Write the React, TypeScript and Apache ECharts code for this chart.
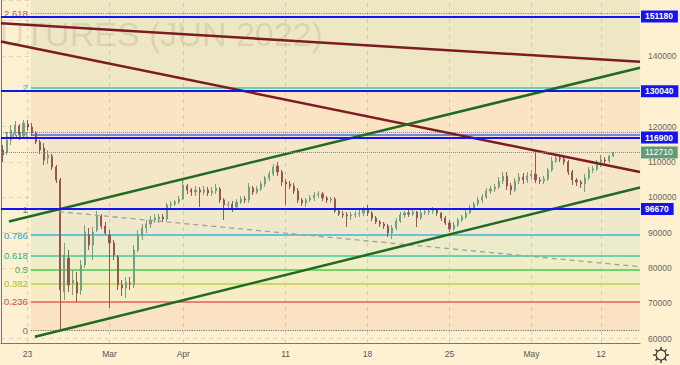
import React, { useEffect, useRef } from 'react';
import * as echarts from 'echarts';

// ---------- axes ----------
const Y_MIN = 58780;
const Y_MAX = 155840;
const X_SLOTS = 156; // category slots (bars + right margin)
const X_TICK_INDEX = [6, 26, 44, 69, 89, 109, 129, 146];
const X_TICK_LABELS = ['23', 'Mar', 'Apr', '11', '18', '25', 'May', '12'];
const HIDDEN_Y_LABELS = [130000, 150000];

// ---------- candles ----------
const OPEN = [
  113390, 112830, 116220, 118490, 120190, 117360, 120750, 119900, 118210, 115660,
  113960, 111130, 111700, 108580, 104910, 73210, 82830, 75760, 76040, 73780,
  80850, 89340, 86510, 90760, 94720, 91890, 89340, 87080, 83120, 75190,
  74350, 75760, 75190, 85100, 89060, 91320, 92460, 93590, 93870, 94440,
  93870, 97830, 98110, 98680, 99530, 103210, 102080, 101510, 102080, 101510,
  102080, 101230, 101790, 102360, 99250, 97830, 98110, 97270, 98680, 99530,
  99250, 102640, 101510, 102360, 103770, 105470, 106600, 108870, 107170, 104340,
  103770, 103210, 101790, 99250, 98400, 99250, 99810, 100660, 100940, 99810,
  99250, 99530, 96130, 95280, 95000, 94720, 95000, 95280, 95570, 96420,
  95570, 94150, 93020, 92460, 91890, 89910, 91320, 93300, 95000, 95570,
  95280, 95850, 94150, 95570, 95850, 96130, 96420, 95570, 94150, 92740,
  91040, 92170, 93590, 94440, 95570, 96980, 98110, 99250, 100100, 101790,
  102360, 102930, 104620, 106040, 103210, 102080, 104620, 105750, 104910, 106040,
  106600, 104910, 104620, 105190, 107740, 110280, 111130, 110850, 110000, 107170,
  104910, 104340, 103770, 105470, 107740, 108020, 110000, 110570, 110280, 111700,
];
const CLOSE = [
  111980, 116220, 119050, 120470, 117640, 121040, 119900, 118210, 115660, 113390,
  110570, 111980, 108580, 104910, 73780, 83680, 75190, 76610, 72930, 80850,
  90190, 86510, 90190, 94720, 91890, 89910, 87080, 83680, 75190, 74350,
  76040, 75480, 85100, 89340, 91320, 92460, 93590, 94150, 94440, 93870,
  97830, 98110, 98680, 99530, 103490, 102080, 101510, 102080, 101510, 102080,
  101230, 101790, 102640, 99250, 97830, 98110, 96980, 98680, 99530, 99250,
  102930, 101510, 102360, 103770, 105470, 106600, 108580, 107170, 104340, 103770,
  103210, 101790, 99250, 98400, 99250, 99810, 100660, 100940, 99810, 99250,
  99530, 96130, 95280, 95000, 94720, 95000, 95280, 95570, 96420, 95570,
  94150, 93020, 92460, 91890, 89910, 91320, 93300, 95000, 95570, 95280,
  95850, 94150, 95570, 95850, 96130, 96420, 95570, 94150, 92740, 91040,
  92170, 93590, 94440, 95570, 96980, 98110, 99250, 100100, 101790, 102360,
  102930, 104620, 106040, 103210, 102080, 104620, 105750, 104910, 106040, 106600,
  104910, 104620, 105190, 107740, 110280, 111130, 110850, 110000, 107170, 104910,
  104340, 103770, 105470, 107740, 108020, 110000, 110570, 110280, 111700, 112710,
];
const LOW = [
  110000, 111980, 114810, 117360, 116220, 116790, 118770, 117360, 115090, 112260,
  109150, 109430, 107740, 104060, 62740, 70950, 73210, 72360, 70380, 72360,
  80000, 85100, 82270, 90190, 91040, 89340, 68690, 82270, 73780, 72080,
  71520, 73780, 74350, 84530, 87930, 89910, 91320, 92740, 92740, 93020,
  93300, 96980, 97550, 98110, 99250, 100940, 100380, 100380, 97270, 100660,
  100380, 100380, 100940, 98400, 93590, 96980, 95850, 96420, 98110, 98400,
  98400, 100660, 100940, 101790, 102930, 104620, 106040, 106040, 103210, 97830,
  102360, 100940, 98400, 97550, 97270, 98680, 98960, 99810, 98960, 98400,
  98400, 95570, 94720, 94150, 91610, 93590, 94150, 94440, 94720, 94720,
  93300, 92460, 91610, 91040, 88780, 88210, 90760, 92740, 94150, 94440,
  94720, 91610, 93590, 95000, 95000, 95280, 94720, 93300, 92170, 90190,
  90470, 91610, 93020, 93870, 95280, 96420, 97550, 98400, 99530, 100940,
  101510, 102360, 103770, 102080, 100660, 101510, 103770, 103770, 104060, 105190,
  104060, 103770, 103770, 104620, 107170, 109720, 110000, 109150, 106320, 103490,
  103210, 102640, 101510, 104910, 106890, 107450, 108580, 109430, 109720, 111410,
];
const HIGH = [
  114810, 118210, 120470, 121600, 120750, 121880, 121880, 121040, 118770, 116220,
  115380, 113390, 112260, 109150, 105470, 87080, 85100, 79440, 78870, 82270,
  92170, 91320, 91610, 96130, 95280, 93020, 90760, 87930, 83680, 76610,
  77460, 77460, 86510, 90760, 92460, 93590, 94720, 95280, 95280, 95280,
  98400, 98960, 99250, 100380, 104910, 103770, 102640, 103210, 102930, 103210,
  102930, 102930, 103770, 102930, 99810, 98960, 98960, 99530, 100380, 100380,
  104060, 103210, 103210, 104620, 106040, 107450, 109430, 110000, 107740, 105190,
  104620, 104060, 102640, 99810, 99810, 100660, 101510, 101790, 101510, 100380,
  100100, 100100, 96700, 96130, 95850, 95850, 96130, 96420, 97270, 97830,
  96130, 94720, 93590, 93020, 92460, 92170, 94150, 95850, 96130, 96420,
  96420, 96130, 96420, 96700, 96700, 97270, 96980, 95850, 94720, 93590,
  93020, 94150, 95000, 96420, 97830, 98680, 100100, 100940, 102640, 103210,
  103770, 105750, 107170, 107170, 104060, 105470, 106890, 106890, 107170, 107740,
  113110, 105750, 106040, 108300, 111410, 111980, 111980, 111700, 110570, 107740,
  105470, 104910, 106600, 108580, 108870, 110570, 111980, 111410, 111980, 112830,
];

// ---------- fibonacci ----------
const FIB_START = 7.3;
const FIB_LABELS = ['0', '0.236', '0.382', '0.5', '0.618', '0.786', '1', '1.618', '2', '2.618'];
const FIB_VALUES = [62400, 70490, 75490, 79540, 83580, 89340, 96670, 117850, 130940, 152120];
const FIB_COLORS = ['#7b7b80', '#e24b43', '#a9bf2e', '#3db83d', '#25b08c', '#2e9fc7', '#7b7b80', '#3b52d8', '#2bb596', '#e24b43'];
const FIB_LINE_COLORS = ['#6e6e72', '#ec5c55', '#bcd246', '#4cc94c', '#3ccaa2', '#3fb6dc', '#7b7b80', '#4b62e6', '#3ccaa2', '#ec5c55'];
const FIB_LINE_TYPES = ['dotted', 'solid', 'solid', 'solid', 'solid', 'solid', 'solid', 'solid', 'solid', 'dotted'];
const ZONE_COLORS = ['#fbe2c2', '#f7ecc5', '#f2eec4', '#eeeec7', '#edebca', '#f0e8cb', '#f4e6c6', '#fbe4c4', '#efe7c4', '#efe7c4'];

// ---------- horizontal levels ----------
const BLUE_LEVELS = [151180, 130040, 116900, 96670];
const LAST_PRICE = 112710;
const DOTTED_LEVELS = [118400];

// ---------- trend lines (x in slot units) ----------
const LINE_A = [[0, 149250], [156, 138380]];
const LINE_B = [[0, 144100], [156, 107170]];
const LINE_C = [[1.95, 93160], [156, 136680]];
const LINE_D = [[8.29, 60560], [156, 102780]];
const LINE_E = [[14.14, 95940], [156, 80370]];

const FONT = '"Liberation Sans", Arial, sans-serif';
const BG = '#fdf1d1';

function buildOption(): any {
  const categories: string[] = [];
  for (let i = 0; i < X_SLOTS; i++) {
    const k = X_TICK_INDEX.indexOf(i);
    categories.push(k >= 0 ? X_TICK_LABELS[k] : '');
  }
  const candles = OPEN.map((o, i) => [o, CLOSE[i], LOW[i], HIGH[i]]);

  const zoneBounds = FIB_VALUES.map((v, k) => [v, k + 1 < FIB_VALUES.length ? FIB_VALUES[k + 1] : Y_MAX]);

  const trend = (data: number[][], color: string, extra: any = {}) => ({
    type: 'line',
    xAxisIndex: 1,
    data,
    z: 4,
    silent: true,
    showSymbol: false,
    symbol: 'none',
    lineStyle: { color, width: 2.5, ...extra },
  });

  return {
    animation: false,
    backgroundColor: BG,
    textStyle: { fontFamily: FONT },
    grid: { left: 0, right: 40, top: 0, bottom: 22 },
    xAxis: [
      {
        type: 'category',
        data: categories,
        boundaryGap: true,
        axisLine: { lineStyle: { color: '#787878' } },
        axisTick: { show: false },
        axisLabel: { interval: 0, color: '#555', fontSize: 8.5, margin: 6, fontFamily: FONT },
        splitLine: { show: false },
      },
      { type: 'value', min: 0, max: X_SLOTS, show: false },
    ],
    yAxis: {
      type: 'value',
      position: 'right',
      min: Y_MIN,
      max: Y_MAX,
      splitNumber: 10,
      minInterval: 10000,
      maxInterval: 10000,
      axisLine: { show: true, lineStyle: { color: '#787878' } },
      axisTick: { show: false },
      axisLabel: {
        color: '#666',
        fontSize: 8.5,
        margin: 8,
        fontFamily: FONT,
        showMinLabel: false,
        showMaxLabel: false,
        formatter: (v: number) => (HIDDEN_Y_LABELS.indexOf(v) >= 0 ? '' : String(v)),
      },
      splitLine: { lineStyle: { color: 'rgba(150,150,150,0.3)', type: [4, 4] } },
    },
    graphic: [
      {
        type: 'text',
        x: -21,
        y: 34,
        z: 1.5,
        silent: true,
        style: {
          text: 'FUTURES (JUN 2022)',
          fontSize: 34,
          fontFamily: FONT,
          fill: 'rgba(110,100,80,0.16)',
          verticalAlign: 'middle',
        },
      },
      { type: 'line', z: 10, shape: { x1: 653, y1: 355, x2: 669, y2: 355 }, style: { stroke: '#333', lineWidth: 1.4 } },
      { type: 'line', z: 10, shape: { x1: 661, y1: 347, x2: 661, y2: 363 }, style: { stroke: '#333', lineWidth: 1.4 } },
      { type: 'line', z: 10, shape: { x1: 655.5, y1: 349.5, x2: 666.5, y2: 360.5 }, style: { stroke: '#333', lineWidth: 1.4 } },
      { type: 'line', z: 10, shape: { x1: 666.5, y1: 349.5, x2: 655.5, y2: 360.5 }, style: { stroke: '#333', lineWidth: 1.4 } },
      { type: 'circle', z: 11, shape: { cx: 661, cy: 355, r: 5 }, style: { fill: BG, stroke: '#333', lineWidth: 1.2 } },
    ],
    series: [
      {
        type: 'line',
        xAxisIndex: 1,
        data: [],
        z: 1,
        silent: true,
        markArea: {
          silent: true,
          z: 1,
          data: zoneBounds.map((b, k) => [
            { xAxis: FIB_START, yAxis: b[0], itemStyle: { color: ZONE_COLORS[k], opacity: 1 } },
            { xAxis: X_SLOTS, yAxis: b[1] },
          ]),
        },
      },
      {
        type: 'line',
        xAxisIndex: 1,
        data: [],
        z: 1.2,
        silent: true,
        markLine: {
          silent: true,
          z: 1.2,
          symbol: ['none', 'none'],
          label: { show: false },
          lineStyle: { color: 'rgba(150,150,150,0.35)', type: [4, 4], width: 1 },
          data: X_TICK_INDEX.map((i) => ({ xAxis: i + 0.5 })),
        },
      },
      {
        type: 'line',
        xAxisIndex: 1,
        data: [],
        z: 2,
        silent: true,
        markLine: {
          silent: true,
          z: 2,
          symbol: ['none', 'none'],
          data: FIB_VALUES.map((v, k) => [
            {
              xAxis: FIB_START,
              yAxis: v,
              lineStyle: { color: FIB_LINE_COLORS[k], width: k === 0 || k === 9 ? 1.2 : 1.5, type: FIB_LINE_TYPES[k] },
              label: {
                show: true,
                position: 'start',
                distance: 3,
                formatter: FIB_LABELS[k],
                color: FIB_COLORS[k],
                fontSize: 9.5,
                fontFamily: FONT,
              },
            },
            { xAxis: X_SLOTS, yAxis: v },
          ]),
        },
      },
      {
        type: 'line',
        xAxisIndex: 1,
        data: [],
        z: 2.5,
        silent: true,
        markLine: {
          silent: true,
          z: 2.5,
          symbol: ['none', 'none'],
          label: { show: false },
          lineStyle: { color: '#8a8a8a', type: 'dotted', width: 1 },
          data: DOTTED_LEVELS.map((v) => ({ yAxis: v })),
        },
      },
      {
        type: 'candlestick',
        xAxisIndex: 0,
        data: candles,
        z: 3,
        silent: true,
        barWidth: 1.6,
        itemStyle: {
          color: '#72a082',
          color0: '#955752',
          borderColor: '#72a082',
          borderColor0: '#955752',
          borderWidth: 1,
        },
      },
      trend(LINE_E, '#a0a0a0', { width: 1.3, type: [5, 4] }),
      trend(LINE_A, '#7e1b22'),
      trend(LINE_B, '#7e1b22'),
      trend(LINE_C, '#1f6b22'),
      trend(LINE_D, '#1f6b22'),
      {
        type: 'line',
        xAxisIndex: 1,
        data: [],
        z: 6,
        silent: true,
        markLine: {
          silent: true,
          z: 6,
          symbol: ['none', 'none'],
          data: [
            ...BLUE_LEVELS.map((v) => ({
              yAxis: v,
              lineStyle: { color: '#1414ee', width: 2, type: 'solid' },
              label: {
                show: true,
                position: 'end',
                distance: 1,
                formatter: String(v),
                color: '#fff',
                backgroundColor: '#1414ee',
                fontWeight: 'bold',
                fontSize: 8.5,
                fontFamily: FONT,
                padding: [2, 5, 1, 4],
              },
            })),
            {
              yAxis: LAST_PRICE,
              lineStyle: { color: '#8a8a8a', width: 1, type: 'dotted' },
              label: {
                show: true,
                position: 'end',
                distance: 1,
                formatter: String(LAST_PRICE),
                color: '#fff',
                backgroundColor: '#5f9c7a',
                fontSize: 8.5,
                fontFamily: FONT,
                padding: [2, 5, 1, 4],
              },
            },
          ],
        },
      },
    ],
  };
}

export default function App() {
  const ref = useRef<HTMLDivElement>(null);
  useEffect(() => {
    if (!ref.current) return;
    const chart = echarts.init(ref.current, null, { renderer: 'svg' });
    chart.setOption(buildOption());
    return () => chart.dispose();
  }, []);
  return (
    <div
      ref={ref}
      style={{ position: 'fixed', left: 0, top: 0, width: 680, height: 365 }}
    />
  );
}
